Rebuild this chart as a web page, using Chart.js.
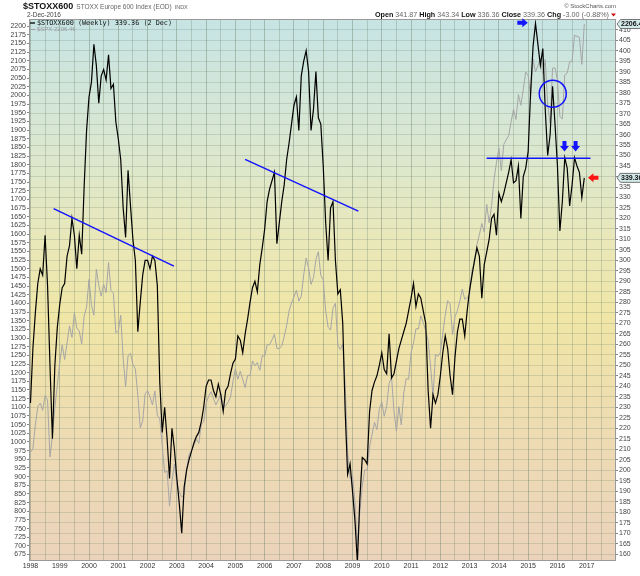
<!DOCTYPE html>
<html><head><meta charset="utf-8">
<script src="https://cdn.jsdelivr.net/npm/chart.js@4.4.0/dist/chart.umd.min.js"></script>
<style>html,body{margin:0;padding:0;background:#fff;}canvas{display:block;}</style>
</head><body>
<canvas id="c" width="640" height="576"></canvas>
<script>
// ---- categories: monthly observation points (value placed at start of month) ----
const months = [];
for (let y = 1998; y <= 2016; y++) for (let m = 0; m < 12; m++) months.push(y + '-' + String(m + 1).padStart(2, '0'));

// ---- $STOXX600 (black, right axis) ----
const stoxx600 = [
 232,258,275,289,296,293,312,288,250,215,250,268,
 279,287,289,302,307,320,312,296,312,303,335,362,
 378,385,403,393,375,388,391,386,398,382,384,366,
 358,348,325,311,343,326,310,300,266,280,293,300,
 300,296,302,300,288,242,218,230,215,196,220,210,
 196,184,170,192,200,205,209,213,216,218,223,230,
 240,243,243,238,235,241,236,228,238,240,246,251,
 253,264,262,256,265,272,280,287,290,285,298,306,
 315,328,334,338,342,308,318,328,336,348,356,365,
 374,378,362,388,395,400,390,362,372,390,368,365,
 345,318,300,325,328,300,284,286,270,228,198,203,
 190,176,156,186,206,205,203,228,238,242,245,250,
 256,248,246,265,244,246,252,258,262,266,270,276,
 282,289,278,284,282,276,270,238,220,236,232,236,
 245,256,264,258,245,236,254,266,272,272,264,276,
 286,293,300,306,302,282,298,304,310,320,322,312,
 332,328,332,337,342,348,337,338,345,320,340,344,
 352,380,402,413,403,393,401,372,350,360,383,365,
 345,314,328,349,344,326,336,349,345,342,330,339.36
];
// ---- $SPX (grey, left axis) ----
const spx = [
 970,980,1049,1102,1112,1091,1134,1121,957,1017,1099,1164,
 1229,1280,1238,1286,1335,1302,1373,1329,1320,1283,1363,1389,
 1469,1394,1366,1499,1452,1421,1455,1431,1518,1437,1429,1315,
 1320,1366,1240,1160,1249,1256,1224,1211,1134,1041,1060,1139,
 1148,1130,1107,1147,1077,1067,990,912,916,815,886,936,
 880,856,841,848,917,964,975,990,1008,996,1051,1058,
 1112,1131,1145,1126,1107,1121,1141,1102,1104,1115,1130,1174,
 1212,1181,1204,1181,1157,1192,1191,1234,1220,1229,1207,1249,
 1248,1280,1281,1295,1311,1270,1270,1277,1304,1336,1378,1401,
 1418,1438,1407,1421,1482,1531,1503,1455,1474,1527,1549,1481,
 1468,1379,1331,1323,1386,1400,1280,1267,1283,1165,969,896,
 903,826,700,798,873,919,919,987,1021,1057,1036,1096,
 1115,1074,1104,1169,1187,1089,1031,1102,1049,1141,1183,1181,
 1258,1286,1327,1326,1364,1345,1321,1292,1219,1131,1253,1247,
 1258,1312,1366,1408,1398,1310,1362,1379,1407,1441,1412,1416,
 1426,1498,1515,1569,1598,1631,1606,1686,1633,1682,1757,1806,
 1848,1783,1859,1872,1884,1924,1960,1931,2003,1972,2018,2068,
 2059,1995,2105,2068,2086,2107,2063,2104,1972,1920,2079,2080,
 2044,1940,1932,2060,2065,2097,2099,2174,2171,2168,2090,2206.46
];

// ---- tick labels ----
const yearLabels = [];
for (let y = 1998; y <= 2017; y++) yearLabels.push(String(y));
const leftTicks = [];
for (let v = 675; v <= 2200; v += 25) leftTicks.push(v);
const rightTicks = [];
for (let v = 160; v <= 410; v += 5) rightTicks.push(v);

// ---- annotations (data coordinates: decimal year, STOXX600 value) ----
const trend1 = [{x: 1998.79, y: 324.7}, {x: 2002.90, y: 297.3}];
const trend2 = [{x: 2005.33, y: 348.2}, {x: 2009.20, y: 323.5}];
const hLine  = [{x: 2013.58, y: 348.7}, {x: 2017.13, y: 348.7}];
const circleMark = [{x: 2015.84, y: 379.5}];
const arrowMarks = [
  {x: 2014.80, y: 413.3, dir: 'right', color: '#1414ff'},
  {x: 2016.24, y: 354.5, dir: 'down',  color: '#1414ff'},
  {x: 2016.62, y: 354.5, dir: 'down',  color: '#1414ff'},
  {x: 2017.23, y: 339.4, dir: 'left',  color: '#ff1414'}
];

const monthX = s => { const [y, m] = s.split('-').map(Number); return y + (m - 1) / 12; };
const stoxxPts = months.map((s, i) => ({x: monthX(s), y: stoxx600[i]}));
const spxPts = months.map((s, i) => ({x: monthX(s), y: spx[i]}));
const lastStoxx = stoxx600[stoxx600.length - 1];
const lastSpx = spx[spx.length - 1];

Chart.defaults.font.family = '"Liberation Sans", Arial, sans-serif';

function arrowPath(ctx, cx, cy, dir) {
  ctx.save();
  ctx.translate(cx, cy);
  const rot = {right: 0, down: Math.PI / 2, left: Math.PI, up: -Math.PI / 2}[dir];
  ctx.rotate(rot);
  ctx.beginPath();
  ctx.moveTo(-5, -2); ctx.lineTo(0, -2); ctx.lineTo(0, -4.5); ctx.lineTo(5.5, 0);
  ctx.lineTo(0, 4.5); ctx.lineTo(0, 2); ctx.lineTo(-5, 2); ctx.closePath();
  ctx.fill();
  ctx.restore();
}

function valueBox(ctx, x0, y, text) {
  ctx.save();
  ctx.beginPath();
  ctx.moveTo(x0 + 1, y);
  ctx.lineTo(x0 + 4.5, y - 4.5);
  ctx.lineTo(641, y - 4.5);
  ctx.lineTo(641, y + 4.5);
  ctx.lineTo(x0 + 4.5, y + 4.5);
  ctx.closePath();
  ctx.fillStyle = '#d4eaea';
  ctx.fill();
  ctx.strokeStyle = '#555';
  ctx.lineWidth = 0.8;
  ctx.stroke();
  ctx.fillStyle = '#111';
  ctx.font = 'bold 7px "Liberation Sans"';
  ctx.textBaseline = 'middle';
  ctx.textAlign = 'left';
  ctx.fillText(text, x0 + 5, y + 0.5);
  ctx.restore();
}

const deco = {
  id: 'deco',
  beforeDraw(chart) {
    const {ctx, chartArea: a} = chart;
    ctx.save();
    ctx.fillStyle = '#fff';
    ctx.fillRect(0, 0, chart.width, chart.height);
    const g = ctx.createLinearGradient(0, a.top, 0, a.bottom);
    g.addColorStop(0, '#c6e4e4');
    g.addColorStop(0.22, '#d9e7d2');
    g.addColorStop(0.42, '#eae8b8');
    g.addColorStop(0.55, '#f0e6a6');
    g.addColorStop(0.75, '#eedcb2');
    g.addColorStop(1, '#ebd3bb');
    ctx.fillStyle = g;
    ctx.fillRect(a.left, a.top, a.right - a.left, a.bottom - a.top);
    ctx.restore();
  },
  afterDraw(chart) {
    const {ctx, chartArea: a} = chart;
    const xs = chart.scales.x, yr = chart.scales.yR, yl = chart.scales.yL;
    ctx.save();
    ctx.strokeStyle = '#9a9a9a';
    ctx.lineWidth = 1;
    ctx.strokeRect(a.left + 0.5, a.top + 0.5, a.right - a.left - 1, a.bottom - a.top - 1);

    arrowMarks.forEach(m => {
      ctx.fillStyle = m.color;
      arrowPath(ctx, xs.getPixelForValue(m.x), yr.getPixelForValue(m.y), m.dir);
    });

    ctx.textBaseline = 'middle';
    ctx.textAlign = 'left';
    ctx.fillStyle = '#111';
    ctx.font = 'bold 9px "Liberation Sans"';
    ctx.fillText('$STOXX600', 23, 7);
    let w = ctx.measureText('$STOXX600').width;
    ctx.font = '6.5px "Liberation Sans"';
    ctx.fillStyle = '#666';
    ctx.fillText('STOXX Europe 600 Index (EOD)', 23 + w + 3, 7.5);
    let w2 = ctx.measureText('STOXX Europe 600 Index (EOD)').width;
    ctx.font = '5.5px "Liberation Sans"';
    ctx.fillText('INDX', 23 + w + 3 + w2 + 3, 7.5);
    ctx.font = '6.5px "Liberation Sans"';
    ctx.fillStyle = '#444';
    ctx.fillText('2-Dec-2016', 27, 15);

    ctx.textAlign = 'right';
    ctx.font = '6px "Liberation Sans"';
    ctx.fillStyle = '#555';
    ctx.fillText('\u00A9 StockCharts.com', 616, 6);
    const segs = [['Open ', 1], ['341.87 ', 0], ['High ', 1], ['343.34 ', 0], ['Low ', 1], ['336.36 ', 0],
                  ['Close ', 1], ['339.36 ', 0], ['Chg ', 1], ['-3.00 (-0.88%)', 0]];
    const fB = 'bold 7.2px "Liberation Sans"', fN = '7.2px "Liberation Sans"';
    let total = 0;
    segs.forEach(s => { ctx.font = s[1] ? fB : fN; total += ctx.measureText(s[0]).width; });
    let x = 609 - total;
    ctx.textAlign = 'left';
    segs.forEach(s => {
      ctx.font = s[1] ? fB : fN;
      ctx.fillStyle = s[1] ? '#111' : '#666';
      ctx.fillText(s[0], x, 15);
      x += ctx.measureText(s[0]).width;
    });
    ctx.fillStyle = '#d01010';
    ctx.beginPath(); ctx.moveTo(611, 13.5); ctx.lineTo(616, 13.5); ctx.lineTo(613.5, 16.5); ctx.closePath(); ctx.fill();

    ctx.strokeStyle = '#000'; ctx.lineWidth = 1.3;
    ctx.beginPath(); ctx.moveTo(30, 23); ctx.lineTo(35, 23); ctx.stroke();
    ctx.fillStyle = '#111';
    ctx.font = '6.8px "DejaVu Sans Mono"';
    ctx.fillText('$STOXX600 (Weekly) ' + lastStoxx.toFixed(2) + ' (2 Dec)', 37, 23);
    ctx.strokeStyle = '#a0a0a0'; ctx.lineWidth = 1;
    ctx.beginPath(); ctx.moveTo(30, 29.5); ctx.lineTo(35, 29.5); ctx.stroke();
    ctx.fillStyle = '#9a9a9a';
    ctx.font = '6px "Liberation Sans"';
    ctx.fillText('$SPX ' + lastSpx.toFixed(2), 37, 29.5);

    valueBox(ctx, a.right, yr.getPixelForValue(lastStoxx), lastStoxx.toFixed(2));
    valueBox(ctx, a.right, yl.getPixelForValue(lastSpx), lastSpx.toFixed(2));
    ctx.restore();
  }
};

const tickFont = {size: 7, family: '"Liberation Sans"'};
new Chart(document.getElementById('c'), {
  type: 'line',
  data: {
    datasets: [
      {data: trend1, yAxisID: 'yR', borderColor: '#1414ff', borderWidth: 1.5, pointRadius: 0},
      {data: trend2, yAxisID: 'yR', borderColor: '#1414ff', borderWidth: 1.5, pointRadius: 0},
      {data: hLine, yAxisID: 'yR', borderColor: '#1414ff', borderWidth: 1.5, pointRadius: 0},
      {data: circleMark, yAxisID: 'yR', showLine: false, pointStyle: 'circle', pointRadius: 13.5,
       pointBorderColor: '#1414ff', pointBackgroundColor: 'rgba(0,0,0,0)', pointBorderWidth: 1.5},
      {data: stoxxPts, yAxisID: 'yR', borderColor: '#000', borderWidth: 1.2, pointRadius: 0, tension: 0},
      {data: spxPts, yAxisID: 'yL', borderColor: '#a6a6a6', borderWidth: 1, pointRadius: 0, tension: 0}
    ]
  },
  options: {
    responsive: false,
    animation: false,
    devicePixelRatio: 1,
    layout: {padding: {top: 19, left: 0, right: 0, bottom: 0}},
    plugins: {legend: {display: false}, tooltip: {enabled: false}},
    scales: {
      x: {
        type: 'linear', min: 1997.95, max: 2018.0, bounds: 'data',
        afterBuildTicks: s => {
          const t = [];
          yearLabels.forEach(l => { t.push({value: Number(l)}); t.push({value: Number(l) + 0.5}); });
          s.ticks = t;
        },
        afterFit: s => { s.height = 11; },
        ticks: {autoSkip: false, maxRotation: 0, padding: 1, font: tickFont, color: '#333',
                callback: v => (Number.isInteger(v) && yearLabels.includes(String(v))) ? String(v) : ''},
        grid: {drawTicks: false, lineWidth: 1,
               color: c => (c.tick && Number.isInteger(c.tick.value)) ? 'rgba(110,128,108,0.42)' : 'rgba(110,128,108,0.30)'},
        border: {display: false}
      },
      yL: {
        type: 'linear', position: 'left', min: 656.4, max: 2220.9, bounds: 'data',
        afterBuildTicks: s => { s.ticks = leftTicks.map(v => ({value: v})); },
        afterFit: s => { s.width = 29; },
        ticks: {autoSkip: false, padding: 1, font: tickFont, color: '#444', callback: v => String(v)},
        grid: {drawOnChartArea: false, tickLength: 2, tickColor: '#888'},
        border: {display: false}
      },
      yR: {
        type: 'linear', position: 'right', min: 156.7, max: 415.1, bounds: 'data',
        afterBuildTicks: s => { s.ticks = rightTicks.map(v => ({value: v})); },
        afterFit: s => { s.width = 24; },
        ticks: {autoSkip: false, padding: 1, font: tickFont, color: '#444', callback: v => String(v)},
        grid: {drawOnChartArea: true, tickLength: 2, tickColor: '#888', color: 'rgba(110,128,108,0.24)'},
        border: {display: false}
      }
    }
  },
  plugins: [deco]
});
</script>
</body></html>
